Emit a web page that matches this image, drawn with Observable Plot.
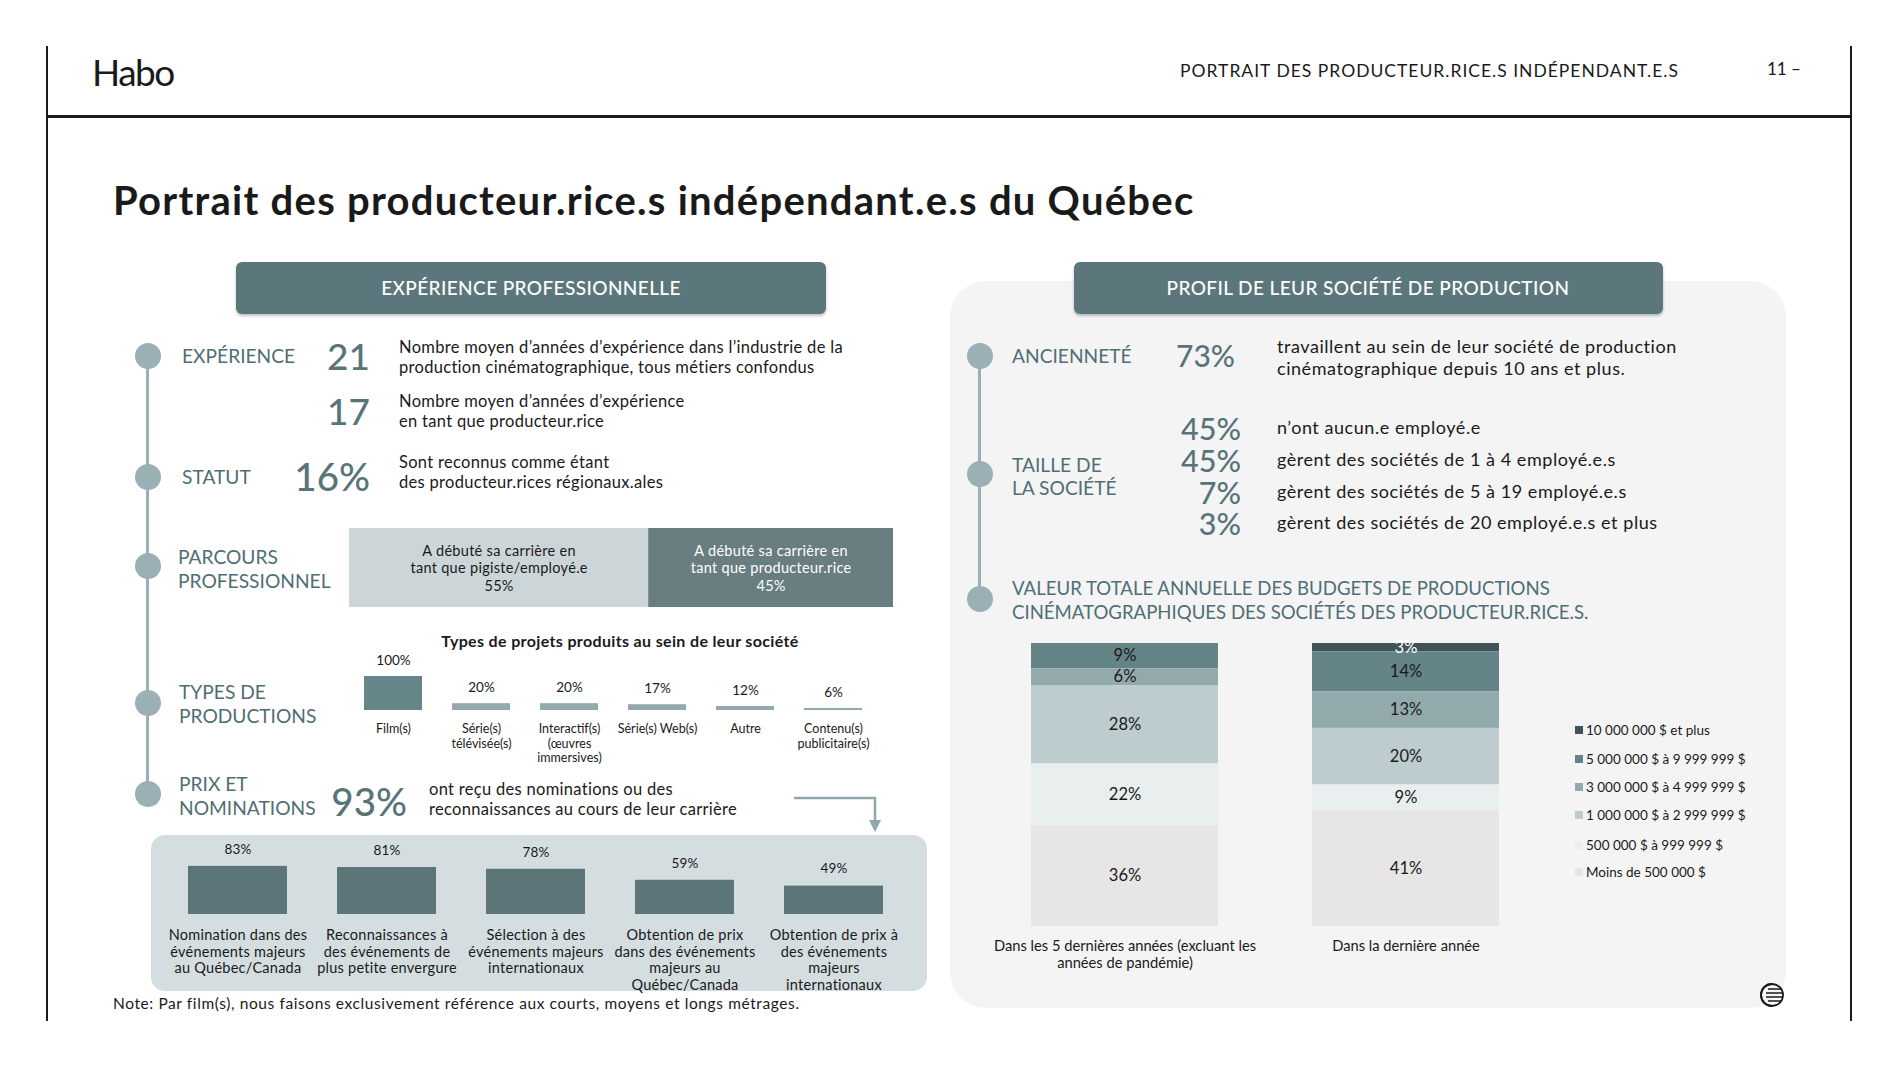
<!DOCTYPE html>
<html><head><meta charset="utf-8">
<script src="https://cdn.jsdelivr.net/npm/d3@7"></script>
<script src="https://cdn.jsdelivr.net/npm/@observablehq/plot@0.6"></script>
<style>
html,body{margin:0;padding:0;background:#fff;overflow:hidden}
#page{position:relative;width:1900px;height:1069px;font-family:Lato,"Noto Sans",sans-serif;color:#1a1a1a}
.abs{position:absolute;white-space:nowrap}
</style></head><body><div id="page"></div>
<script>
// ---------- DATA ----------
const headerRight = "PORTRAIT DES PRODUCTEUR.RICE.S INDÉPENDANT.E.S";
const pageNumber = "11 –";
const mainTitle = "Portrait des producteur.rice.s indépendant.e.s du Québec";
const leftHeader = "EXPÉRIENCE PROFESSIONNELLE";
const rightHeader = "PROFIL DE LEUR SOCIÉTÉ DE PRODUCTION";

const expValues = ["21", "17"];
const expTexts = [
  "Nombre moyen d’années d’expérience dans l’industrie de la\nproduction cinématographique, tous métiers confondus",
  "Nombre moyen d’années d’expérience\nen tant que producteur.rice"
];
const statutValue = "16%";
const statutText = "Sont reconnus comme étant\ndes producteur.rices régionaux.ales";

const parcoursLabels = ["A débuté sa carrière en\ntant que pigiste/employé.e", "A débuté sa carrière en\ntant que producteur.rice"];
const parcoursValues = [55, 45];

const typesTitle = "Types de projets produits au sein de leur société";
const typeCategories = ["Film(s)", "Série(s)\ntélévisée(s)", "Interactif(s)\n(œuvres\nimmersives)", "Série(s) Web(s)", "Autre", "Contenu(s)\npublicitaire(s)"];
const typeValues = [100, 20, 20, 17, 12, 6];

const prixValue = "93%";
const prixText = "ont reçu des nominations ou des\nreconnaissances au cours de leur carrière";
const prixCategories = [
  "Nomination dans des\névénements majeurs\nau Québec/Canada",
  "Reconnaissances à\ndes événements de\nplus petite envergure",
  "Sélection à des\névénements majeurs\ninternationaux",
  "Obtention de prix\ndans des événements\nmajeurs au\nQuébec/Canada",
  "Obtention de prix à\ndes événements\nmajeurs\ninternationaux"
];
const prixValues = [83, 81, 78, 59, 49];
const noteText = "Note: Par film(s), nous faisons exclusivement référence aux courts, moyens et longs métrages.";

const ancienneteValue = "73%";
const ancienneteText = "travaillent au sein de leur société de production\ncinématographique depuis 10 ans et plus.";
const tailleValues = ["45%", "45%", "7%", "3%"];
const tailleTexts = ["n’ont aucun.e employé.e", "gèrent des sociétés de 1 à 4 employé.e.s", "gèrent des sociétés de 5 à 19 employé.e.s", "gèrent des sociétés de 20 employé.e.s et plus"];
const valeurTitle = "VALEUR TOTALE ANNUELLE DES BUDGETS DE PRODUCTIONS\nCINÉMATOGRAPHIQUES DES SOCIÉTÉS DES PRODUCTEUR.RICE.S.";

const budgetBrackets = ["10 000 000 $ et plus", "5 000 000 $ à 9 999 999 $", "3 000 000 $ à 4 999 999 $", "1 000 000 $ à 2 999 999 $", "500 000 $ à 999 999 $", "Moins de 500 000 $"];
const budgetPeriods = ["Dans les 5 dernières années (excluant les\nannées de pandémie)", "Dans la dernière année"];
const budget5ans = [0, 9, 6, 28, 22, 36];
const budgetDerniere = [3, 14, 13, 20, 9, 41];

// ---------- STYLE ----------
const FONT = "Lato, 'Noto Sans', sans-serif";
const LABEL_COLOR = "#4f6e74";
const NUM_COLOR = "#587478";
const TIMELINE = "#9bb0b4";
const HEAD_BG = "#5b777b";
const PARCOURS_COLORS = ["#ccd6d9", "#687e81"];
const FILM_COLOR = "#66868a", TYPE_COLOR = "#93a9ad";
const PRIX_COLOR = "#5b7579";
const BUDGET_COLORS = ["#3f5457", "#658488", "#93aaad", "#bccccf", "#e9eeee", "#e7e5e6"];

const page = document.getElementById("page");
function box(style) { const e = document.createElement("div"); e.className = "abs"; Object.assign(e.style, style); page.appendChild(e); return e; }
function txt(str, x, y, o = {}) {
  const size = o.size || 15, L = o.lh || size * 1.2;
  const d = box({fontSize: size + "px", lineHeight: L + "px", color: o.color || "#1a1a1a", fontWeight: o.weight || 400, top: (y - L / 2) + "px"});
  if (o.ls) d.style.letterSpacing = o.ls + "px";
  str.split("\n").forEach((s, i) => { if (i) d.appendChild(document.createElement("br")); d.appendChild(document.createTextNode(s)); });
  if (!o.align || o.align === "left") d.style.left = x + "px";
  else if (o.align === "right") { d.style.right = (1900 - x) + "px"; d.style.textAlign = "right"; }
  else { d.style.left = x + "px"; d.style.transform = "translateX(-50%)"; d.style.textAlign = "center"; }
  return d;
}
function circle(x, y, r, color) { box({left: (x - r) + "px", top: (y - r) + "px", width: 2 * r + "px", height: 2 * r + "px", borderRadius: "50%", background: color}); }
function mount(node, left, top) { const d = box({left: left + "px", top: top + "px"}); d.appendChild(node); }

const DESC = {size: 16.5, lh: 19.5, ls: 0.3};
const CAPS = {size: 19.2, color: LABEL_COLOR};
const RDESC = {size: 18, ls: 0.55};

// ---------- FRAME ----------
box({left: "46px", top: "46px", width: "2px", height: "975px", background: "#1a1a1a"});
box({left: "1850px", top: "46px", width: "2px", height: "975px", background: "#1a1a1a"});
box({left: "46px", top: "115px", width: "1806px", height: "3px", background: "#1a1a1a"});
txt("Habo", 92, 72, {size: 37, ls: -1.5});
txt(headerRight, 1180, 70, {size: 17.5, ls: 1});
txt(pageNumber, 1767, 69, {size: 17});
txt(mainTitle, 113, 200, {size: 40, weight: 700, ls: 1.25});

// ---------- LEFT ----------
box({left: "236px", top: "262px", width: "590px", height: "52px", background: HEAD_BG, borderRadius: "6px", boxShadow: "0 2px 3px rgba(0,0,0,0.25)"});
txt(leftHeader, 531, 288, {size: 19, color: "#fff", align: "center", weight: 500, ls: 0.4});

box({left: "146px", top: "356px", width: "3px", height: "438px", background: TIMELINE});
[356, 477, 566, 703, 794].forEach(y => circle(147.5, y, 13, TIMELINE));

txt("EXPÉRIENCE", 182, 356, CAPS);
txt(expValues[0], 370, 356, {size: 37, color: NUM_COLOR, align: "right", weight: 500});
txt(expTexts[0], 399, 348, DESC);
txt(expValues[1], 370, 411, {size: 37, color: NUM_COLOR, align: "right", weight: 500});
txt(expTexts[1], 399, 402, DESC);
txt("STATUT", 182, 477, CAPS);
txt(statutValue, 370, 476, {size: 38.5, color: NUM_COLOR, align: "right", weight: 500});
txt(statutText, 399, 463, DESC);
txt("PARCOURS\nPROFESSIONNEL", 178, 557, {...CAPS, lh: 24});
txt("TYPES DE\nPRODUCTIONS", 179, 692, {...CAPS, lh: 24});
txt("PRIX ET\nNOMINATIONS", 179, 784, {...CAPS, lh: 24});
txt(prixValue, 407, 801, {size: 38.5, color: NUM_COLOR, align: "right", weight: 500});
txt(prixText, 429, 790, DESC);
txt(typesTitle, 620, 641, {size: 16, weight: 700, align: "center", ls: 0.35});

// parcours stacked bar
const parcoursData = parcoursLabels.map((l, i) => ({label: l, value: parcoursValues[i]}));
mount(Plot.plot({
  width: 544, height: 79, margin: 0,
  style: {fontFamily: FONT, background: "transparent", overflow: "visible", letterSpacing: "0.3px"},
  x: {domain: [0, 100], axis: null}, y: {axis: null},
  color: {type: "identity"},
  marks: [
    Plot.barX(parcoursData, Plot.stackX({x: "value", z: "label", fill: (d, i) => PARCOURS_COLORS[i]})),
    Plot.text(parcoursData, Plot.stackX({x: "value", z: "label", text: d => d.label + "\n" + d.value + "%",
      fill: (d, i) => i ? "#ffffff" : "#1a1a1a", fontSize: 14.5, lineHeight: 1.18, frameAnchor: "middle"}))
  ]
}), 349, 528);

// types bar chart
const typesData = typeCategories.map((c, i) => ({cat: c, value: typeValues[i]}));
mount(Plot.plot({
  width: 528, height: 125, marginTop: 31, marginBottom: 60, marginLeft: 0, marginRight: 0,
  style: {fontFamily: FONT, background: "transparent", overflow: "visible", color: "#1a1a1a"},
  x: {domain: typeCategories, type: "band", padding: 0, axis: null},
  y: {domain: [0, 100], axis: null},
  color: {type: "identity"},
  marks: [
    Plot.barY(typesData, {x: "cat", y: "value", fill: d => d.cat === typeCategories[0] ? FILM_COLOR : TYPE_COLOR, insetLeft: 15, insetRight: 15}),
    Plot.text(typesData, {x: "cat", y: "value", text: d => d.value + "%", dy: -16, fontSize: 13.5, fill: "#1a1a1a"}),
    Plot.text(typesData, {x: "cat", frameAnchor: "bottom", text: "cat", lineAnchor: "top", dy: 12, fontSize: 12.5, lineHeight: 1.18, fill: "#1a1a1a"})
  ]
}), 349, 645);

// arrow
const arrow = box({left: "790px", top: "794px"});
arrow.innerHTML = '<svg width="95" height="40"><path d="M4 4 H85 V28" fill="none" stroke="#8fa6aa" stroke-width="2.5"/><path d="M79 26 L91 26 L85 38 Z" fill="#8fa6aa"/></svg>';

// prix panel + chart
box({left: "151px", top: "835px", width: "776px", height: "156px", background: "#d4dde0", borderRadius: "14px"});
const prixData = prixCategories.map((c, i) => ({cat: c, value: prixValues[i]}));
mount(Plot.plot({
  width: 747, height: 156, marginTop: 21, marginBottom: 77, marginLeft: 0, marginRight: 0,
  style: {fontFamily: FONT, background: "transparent", overflow: "visible", color: "#1a1a1a", letterSpacing: "0.25px"},
  x: {domain: prixCategories, type: "band", padding: 0, axis: null},
  y: {domain: [0, 100], axis: null},
  marks: [
    Plot.barY(prixData, {x: "cat", y: "value", fill: PRIX_COLOR, insetLeft: 25, insetRight: 25}),
    Plot.text(prixData, {x: "cat", y: "value", text: d => d.value + "%", dy: -17, fontSize: 13.5, fill: "#1a1a1a"}),
    Plot.text(prixData, {x: "cat", frameAnchor: "bottom", text: "cat", lineAnchor: "top", dy: 13, fontSize: 14.5, lineHeight: 1.17, fill: "#1a1a1a"})
  ]
}), 162, 835);

txt(noteText, 113, 1003, {size: 15.5, ls: 0.6});

// ---------- RIGHT ----------
box({left: "950px", top: "281px", width: "836px", height: "727px", background: "#f4f4f4", borderRadius: "36px"});
box({left: "1074px", top: "262px", width: "589px", height: "52px", background: HEAD_BG, borderRadius: "6px", boxShadow: "0 2px 3px rgba(0,0,0,0.25)"});
txt(rightHeader, 1368, 288, {size: 19, color: "#fff", align: "center", weight: 500, ls: 0.4});

box({left: "978px", top: "356px", width: "3px", height: "243px", background: TIMELINE});
[356, 474, 599].forEach(y => circle(979.5, y, 13, TIMELINE));

txt("ANCIENNETÉ", 1012, 356, CAPS);
txt(ancienneteValue, 1235, 355, {size: 30, color: NUM_COLOR, align: "right", weight: 500});
txt(ancienneteText, 1277, 346, {...RDESC, lh: 22});
txt("TAILLE DE\nLA SOCIÉTÉ", 1012, 464, {...CAPS, lh: 23});
[428, 460, 492, 523].forEach((y, i) => {
  txt(tailleValues[i], 1241, y, {size: 30.5, lh: 30, color: NUM_COLOR, align: "right", weight: 500});
  txt(tailleTexts[i], 1277, y, RDESC);
});
txt(valeurTitle, 1012, 588, {size: 18.6, lh: 24, color: LABEL_COLOR});

// budget stacked bars
const budgetData = [];
budgetPeriods.forEach((p, j) => {
  const vals = j === 0 ? budget5ans : budgetDerniere;
  budgetBrackets.forEach((b, i) => { if (vals[i] > 0) budgetData.push({period: p, bracket: b, value: vals[i]}); });
});
const stackOrder = budgetBrackets.slice().reverse();
mount(Plot.plot({
  width: 562, height: 340, marginTop: 3, marginBottom: 54, marginLeft: 0, marginRight: 0,
  style: {fontFamily: FONT, background: "transparent", overflow: "visible", color: "#1a1a1a"},
  x: {domain: budgetPeriods, type: "band", padding: 0, axis: null},
  y: {axis: null},
  color: {type: "identity"},
  marks: [
    Plot.barY(budgetData, Plot.stackY({offset: "normalize", order: stackOrder, x: "period", y: "value", z: "bracket",
      fill: d => BUDGET_COLORS[budgetBrackets.indexOf(d.bracket)], insetLeft: 47, insetRight: 47})),
    Plot.text(budgetData, Plot.stackY({offset: "normalize", order: stackOrder, x: "period", y: "value", z: "bracket",
      text: d => d.value + "%", fill: d => d.bracket === budgetBrackets[0] ? "#ffffff" : "#1a1a1a", fontSize: 16.5})),
    Plot.text(budgetPeriods, {x: d => d, frameAnchor: "bottom", text: d => d, lineAnchor: "top", dy: 12, fontSize: 14.7, lineHeight: 1.17, fill: "#1a1a1a"})
  ]
}), 984, 640);

// legend
[730, 759, 787, 815, 845, 872].forEach((y, i) => {
  box({left: "1575px", top: (y - 4) + "px", width: "8px", height: "8px", background: BUDGET_COLORS[i]});
  txt(budgetBrackets[i], 1586, y, {size: 13.5});
});

// icon
const icon = box({left: "1759px", top: "982px"});
icon.innerHTML = '<svg width="26" height="26" viewBox="0 0 26 26"><circle cx="13" cy="13" r="11" fill="none" stroke="#1a1a1a" stroke-width="1.8"/><path d="M9 7 H22 M7 11 H24 M7 15 H24 M9 19 H22" stroke="#1a1a1a" stroke-width="1.6"/><path d="M13 2 A11 11 0 0 0 13 24" fill="none" stroke="#1a1a1a" stroke-width="1.8"/></svg>';
</script></body></html>
